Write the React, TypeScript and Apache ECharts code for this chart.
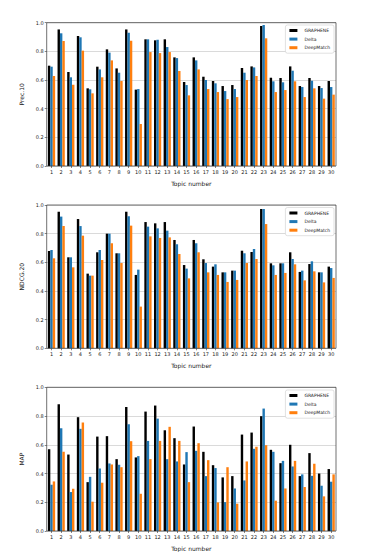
import React, { useEffect, useRef } from "react";
import * as echarts from "echarts";

const topics = Array.from({ length: 30 }, (_, i) => String(i + 1));
const seriesNames = ["GRAPHENE", "Delta", "DeepMatch"];
const colors = ["#000000", "#1f77b4", "#ff7f0e"];

const precGraphene = [0.70, 0.953, 0.656, 0.907, 0.542, 0.693, 0.814, 0.681, 0.953, 0.533, 0.884, 0.877, 0.884, 0.758, 0.586, 0.758, 0.623, 0.593, 0.558, 0.565, 0.684, 0.695, 0.977, 0.616, 0.614, 0.695, 0.558, 0.614, 0.558, 0.593];
const precDelta = [0.693, 0.926, 0.619, 0.898, 0.535, 0.674, 0.791, 0.651, 0.930, 0.537, 0.884, 0.881, 0.830, 0.753, 0.565, 0.737, 0.60, 0.577, 0.523, 0.537, 0.651, 0.688, 0.984, 0.591, 0.584, 0.665, 0.551, 0.595, 0.544, 0.551];
const precDeepMatch = [0.628, 0.872, 0.567, 0.805, 0.507, 0.619, 0.737, 0.593, 0.874, 0.293, 0.795, 0.788, 0.795, 0.663, 0.493, 0.674, 0.537, 0.516, 0.467, 0.481, 0.60, 0.628, 0.891, 0.516, 0.530, 0.591, 0.481, 0.542, 0.470, 0.498];

const ndcgGraphene = [0.679, 0.953, 0.635, 0.902, 0.521, 0.670, 0.80, 0.663, 0.953, 0.512, 0.881, 0.872, 0.881, 0.756, 0.581, 0.756, 0.621, 0.570, 0.530, 0.542, 0.681, 0.672, 0.972, 0.593, 0.593, 0.670, 0.533, 0.588, 0.530, 0.570];
const ndcgDelta = [0.686, 0.919, 0.635, 0.853, 0.507, 0.686, 0.80, 0.663, 0.921, 0.549, 0.849, 0.837, 0.821, 0.726, 0.556, 0.733, 0.595, 0.586, 0.530, 0.542, 0.663, 0.693, 0.972, 0.579, 0.593, 0.623, 0.542, 0.607, 0.530, 0.560];
const ndcgDeepMatch = [0.628, 0.853, 0.565, 0.786, 0.507, 0.616, 0.733, 0.595, 0.856, 0.291, 0.781, 0.770, 0.774, 0.658, 0.488, 0.670, 0.530, 0.512, 0.463, 0.477, 0.595, 0.623, 0.867, 0.512, 0.526, 0.586, 0.474, 0.537, 0.460, 0.491];

const mapGraphene = [0.569, 0.882, 0.532, 0.792, 0.340, 0.657, 0.660, 0.50, 0.863, 0.512, 0.831, 0.873, 0.701, 0.646, 0.463, 0.727, 0.551, 0.458, 0.373, 0.382, 0.671, 0.685, 0.799, 0.565, 0.472, 0.60, 0.382, 0.542, 0.40, 0.431];
const mapDelta = [0.322, 0.715, 0.271, 0.711, 0.377, 0.435, 0.470, 0.461, 0.743, 0.521, 0.627, 0.782, 0.50, 0.484, 0.549, 0.558, 0.382, 0.438, 0.201, 0.296, 0.352, 0.572, 0.852, 0.551, 0.488, 0.449, 0.394, 0.384, 0.315, 0.343];
const mapDeepMatch = [0.345, 0.551, 0.294, 0.755, 0.204, 0.336, 0.463, 0.444, 0.625, 0.259, 0.50, 0.627, 0.725, 0.627, 0.340, 0.611, 0.493, 0.199, 0.444, 0.190, 0.484, 0.586, 0.597, 0.211, 0.296, 0.488, 0.306, 0.468, 0.241, 0.394];

const yTitles = ["Prec.10", "NDCG.20", "MAP"];
const panels = [
  [precGraphene, precDelta, precDeepMatch],
  [ndcgGraphene, ndcgDelta, ndcgDeepMatch],
  [mapGraphene, mapDelta, mapDeepMatch],
];

const gridTops = [22.7, 205, 387.3];
const gridHeights = [143.3, 143.3, 144];
const legendTops = [25, 207.5, 390];

export default function App() {
  const ref = useRef<HTMLDivElement>(null);
  useEffect(() => {
    if (!ref.current) return;
    const chart = echarts.init(ref.current, null, { renderer: "svg" });
    const font = "DejaVu Sans";
    const grid = gridTops.map((t, i) => ({
      left: 46.7,
      top: t,
      width: 289.3,
      height: gridHeights[i],
      show: true,
      borderColor: "#333",
      borderWidth: 0.7,
      backgroundColor: "transparent",
      z: 3,
    }));
    const xAxis = gridTops.map((_, i) => ({
      type: "category",
      gridIndex: i,
      data: topics,
      name: "Topic number",
      nameLocation: "middle",
      nameGap: 14,
      nameTextStyle: { fontFamily: font, fontSize: 6, color: "#222" },
      axisLine: { show: false },
      axisTick: { show: true, alignWithLabel: true, length: 2, lineStyle: { color: "#333", width: 0.6 } },
      axisLabel: { fontFamily: font, fontSize: 5, color: "#222", margin: 3, interval: 0 },
      splitLine: { show: false },
    }));
    const yAxis = gridTops.map((_, i) => ({
      type: "value",
      gridIndex: i,
      min: 0,
      max: 1,
      interval: 0.2,
      name: yTitles[i],
      nameLocation: "middle",
      nameGap: 17,
      nameRotate: 90,
      nameTextStyle: { fontFamily: font, fontSize: 6, color: "#222" },
      axisLine: { show: false },
      axisTick: { show: true, length: 2, lineStyle: { color: "#333", width: 0.6 } },
      axisLabel: { fontFamily: font, fontSize: 5, color: "#222", margin: 3, formatter: (v: number) => v.toFixed(1) },
      splitLine: { show: true, lineStyle: { color: "#d0d0d0", width: 0.8 } },
    }));
    const series: any[] = [];
    panels.forEach((panel, p) => {
      panel.forEach((vals, s) => {
        series.push({
          type: "bar",
          name: seriesNames[s],
          xAxisIndex: p,
          yAxisIndex: p,
          data: vals,
          barWidth: "25%",
          barGap: "0%",
          itemStyle: { color: colors[s] },
        });
      });
    });
    const legend = legendTops.map((t) => ({
      data: seriesNames,
      orient: "vertical",
      right: 40,
      top: t,
      itemWidth: 8,
      itemHeight: 3,
      itemGap: 3.6,
      padding: [3, 4, 3, 4],
      backgroundColor: "#fff",
      borderColor: "#ccc",
      borderWidth: 0.6,
      borderRadius: 2,
      icon: "rect",
      textStyle: { fontFamily: font, fontSize: 4.5, color: "#222", padding: [0, 0, 0, 2] },
      z: 10,
    }));
    chart.setOption({
      animation: false,
      backgroundColor: "#fff",
      grid,
      xAxis,
      yAxis,
      series,
      legend,
    });
    return () => chart.dispose();
  }, []);
  return (
    <div
      ref={ref}
      style={{ position: "fixed", left: 0, top: 0, width: 374, height: 552 }}
    />
  );
}
